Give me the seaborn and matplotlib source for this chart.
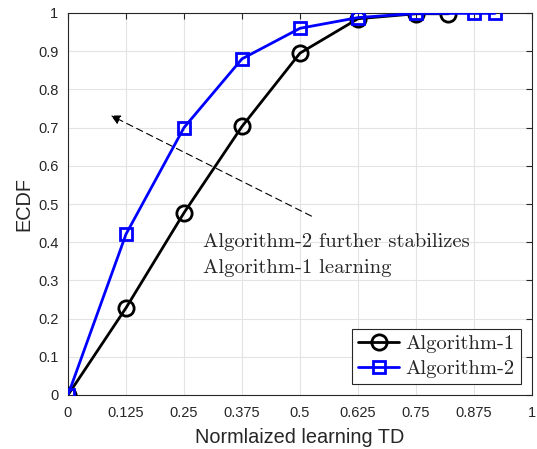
import matplotlib
matplotlib.use("Agg")
import matplotlib.pyplot as plt
import seaborn as sns
import numpy as np

x_alg1 = [0, 0.125, 0.25, 0.375, 0.5, 0.625, 0.75, 0.82]
y_alg1 = [0, 0.228, 0.477, 0.703, 0.895, 0.985, 0.998, 0.998]
x_alg2 = [0, 0.125, 0.25, 0.375, 0.5, 0.625, 0.75, 0.875, 0.92]
y_alg2 = [0, 0.421, 0.70, 0.88, 0.96, 0.988, 0.999, 0.999, 0.999]
xticks = [0, 0.125, 0.25, 0.375, 0.5, 0.625, 0.75, 0.875, 1]
xtick_labels = ["0", "0.125", "0.25", "0.375", "0.5", "0.625", "0.75", "0.875", "1"]
yticks = [0, 0.1, 0.2, 0.3, 0.4, 0.5, 0.6, 0.7, 0.8, 0.9, 1]
ytick_labels = ["0", "0.1", "0.2", "0.3", "0.4", "0.5", "0.6", "0.7", "0.8", "0.9", "1"]

sns.set_style("white")
plt.rcParams['font.family'] = ['Liberation Sans', 'DejaVu Sans']

fig = plt.figure(figsize=(5.37, 4.49), dpi=100)
ax = fig.add_axes([68/537, 1-395/449, (532-68)/537, (395-13)/449])

sns.lineplot(x=x_alg1, y=y_alg1, ax=ax, color='black', lw=2, marker='o', markersize=11,
             markerfacecolor='none', markeredgecolor='black', markeredgewidth=2,
             label='Algorithm-1', zorder=3)
sns.lineplot(x=x_alg2, y=y_alg2, ax=ax, color='#0000ff', lw=2, marker='s', markersize=8,
             markerfacecolor='none', markeredgecolor='#0000ff', markeredgewidth=2,
             label='Algorithm-2', zorder=4)

ax.set_xlim(0, 1)
ax.set_ylim(0, 1)
ax.set_xticks(xticks)
ax.set_xticklabels(xtick_labels)
ax.set_yticks(yticks)
ax.set_yticklabels(ytick_labels)
ax.grid(True, color='#e3e3e3', lw=0.8)
ax.set_axisbelow(True)
for s in ax.spines.values():
    s.set_color('#262626')
    s.set_linewidth(0.8)
ax.tick_params(direction='in', top=True, right=True, length=4, width=0.8,
               colors='#262626', labelsize=10.5)
ax.tick_params(axis='x', pad=8)
ax.tick_params(axis='y', pad=7)
ax.set_xlabel('Normlaized learning TD', fontsize=14.3, color='#262626', labelpad=6)
ax.set_ylabel('ECDF', fontsize=14.3, color='#262626', labelpad=3)

ax.annotate('', xy=(0.087, 0.735), xytext=(0.53, 0.465),
            arrowprops=dict(arrowstyle='-|>', color='black', lw=0.8, ls=(0, (6, 4)),
                            mutation_scale=14))
ax.text(0.29, 0.40, 'Algorithm-2 further stabilizes', family='cmr10', fontsize=14.8,
        va='center', ha='left')
ax.text(0.29, 0.332, 'Algorithm-1 learning', family='cmr10', fontsize=14.8,
        va='center', ha='left')

leg = ax.legend(loc='lower right', prop={'family': 'cmr10', 'size': 14.8},
                fancybox=False, framealpha=1, edgecolor='#262626',
                borderaxespad=0.0, handlelength=2.0, borderpad=0.3, labelspacing=0.3,
                handletextpad=0.3)
leg.set_bbox_to_anchor((0, (395-384)/382, (521-68)/464, 0.5), transform=ax.transAxes)
leg.get_frame().set_linewidth(0.8)

fig.savefig('out.png', dpi=100)
